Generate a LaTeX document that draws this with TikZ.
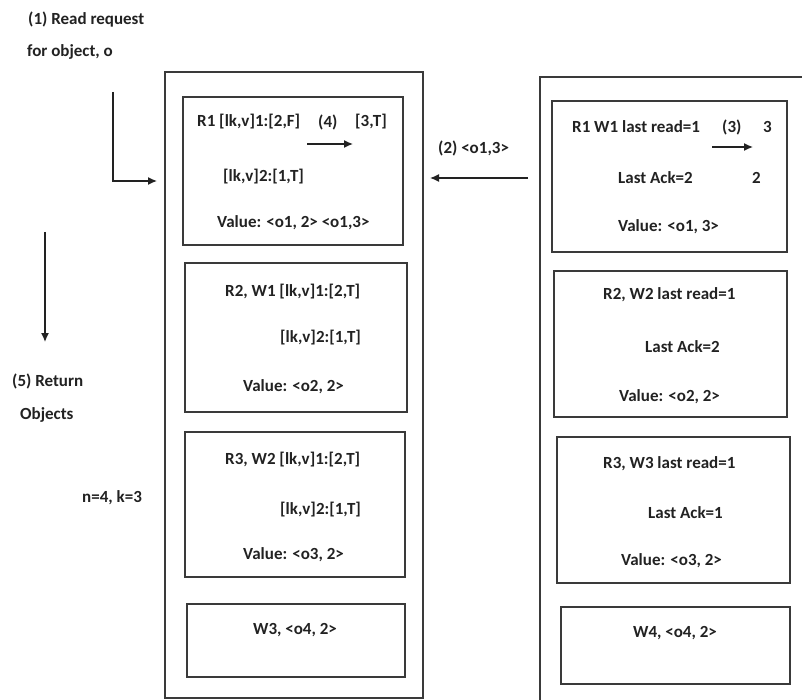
\documentclass[tikz,border=0pt]{standalone}
\usepackage{fontspec}
\setmainfont{Carlito}
\usetikzlibrary{arrows.meta}
\definecolor{ink}{HTML}{222222}
\definecolor{edge}{HTML}{3A3A3A}
\tikzset{
  frame/.style={draw=edge, line width=1.3pt},
  box/.style={draw=edge, line width=1.6pt},
  txt/.style={anchor=west, inner sep=0pt, text=ink, font=\fontsize{17}{19}\selectfont\bfseries},
  ctxt/.style={inner sep=0pt, text=ink, font=\fontsize{17}{19}\selectfont\bfseries},
  arr/.style={draw=ink, line width=1.3pt, -{Latex[length=9pt,width=8pt]}}
}
\begin{document}
\begin{tikzpicture}[x=1pt,y=-1pt]
\useasboundingbox (0,0) rectangle (802,700);
% outer containers
\draw[frame] (165,72) rectangle (423,698);
\coordinate (LoutW) at (165,181);
\coordinate (LoutE) at (423,178);
\draw[frame] (802,77) -- (540,77) -- (540,702);
\coordinate (RoutW) at (540,178);
% left inner boxes
\draw[box] (183,97) rectangle (403,245);
\draw[box] (185,263) rectangle (407,412);
\draw[box] (185,432) rectangle (405,577);
\draw[box] (187,604) rectangle (405,677);
% right inner boxes
\draw[box] (552,101) rectangle (787,252);
\draw[box] (554,271) rectangle (787,417);
\draw[box] (557,437) rectangle (790,583);
\draw[box] (561,607) rectangle (790,684);
% side texts
\node[txt] (t1a) at (28,20) {(1) Read request};
\node[txt] (t1b) at (27,52) {for object, o};
\node[txt] (t5a) at (12,381) {(5) Return};
\node[txt] (t5b) at (20,415) {Objects};
\node[txt] (tnk) at (82,498) {n=4, k=3};
\node[txt] (t2) at (438,148) {(2) <o1,3>};
% arrow (1)
\coordinate (a1s) at (113,92);
\coordinate (a1e) at ([xshift=-8pt]LoutW);
\draw[arr] (a1s) |- (a1e);
% arrow (5)
\coordinate (a5s) at (45,232);
\coordinate (a5e) at (45,342);
\draw[arr] (a5s) -- (a5e);
% arrow (2)
\coordinate (a2s) at ([xshift=-12pt]RoutW);
\coordinate (a2e) at ([xshift=7pt]LoutE);
\draw[arr] (a2s) -- (a2e);
% left box 1
\node[txt] (l1a) at (197,122) {R1 [lk,v]1:[2,F]};
\node[txt] (l1b) at (318,122) {(4)};
\node[txt] (l1c) at (355,122) {[3,T]};
\node[txt] (l1d) at (223,177) {[lk,v]2:[1,T]};
\node[txt] (l1e) at (217,223) {Value: <o1, 2> <o1,3>};
\coordinate (a4s) at (307,144);
\coordinate (a4e) at (353,144);
\draw[arr] (a4s) -- (a4e);
% left box 2
\node[txt] (l2a) at (225,292) {R2, W1 [lk,v]1:[2,T]};
\node[txt] (l2b) at (280,338) {[lk,v]2:[1,T]};
\node[txt] (l2c) at (243,387) {Value: <o2, 2>};
% left box 3
\node[txt] (l3a) at (225,460) {R3, W2 [lk,v]1:[2,T]};
\node[txt] (l3b) at (280,510) {[lk,v]2:[1,T]};
\node[txt] (l3c) at (243,555) {Value: <o3, 2>};
% left box 4
\node[ctxt] (l4a) at (295,630) {W3, <o4, 2>};
% right box 1
\node[txt] (r1a) at (572,127) {R1 W1 last read=1};
\node[txt] (r1b) at (722,127) {(3)};
\node[txt] (r1c) at (763,127) {3};
\node[txt] (r1d) at (618,178) {Last Ack=2};
\node[txt] (r1e) at (752,178) {2};
\node[txt] (r1f) at (618,227) {Value: <o1, 3>};
\coordinate (a3s) at (712,147);
\coordinate (a3e) at (753,147);
\draw[arr] (a3s) -- (a3e);
% right box 2
\node[txt] (r2a) at (603,295) {R2, W2 last read=1};
\node[txt] (r2b) at (645,347) {Last Ack=2};
\node[txt] (r2c) at (619,397) {Value: <o2, 2>};
% right box 3
\node[txt] (r3a) at (603,464) {R3, W3 last read=1};
\node[txt] (r3b) at (648,513) {Last Ack=1};
\node[txt] (r3c) at (621,561) {Value: <o3, 2>};
% right box 4
\node[ctxt] (r4a) at (675,633) {W4, <o4, 2>};
\end{tikzpicture}
\end{document}
